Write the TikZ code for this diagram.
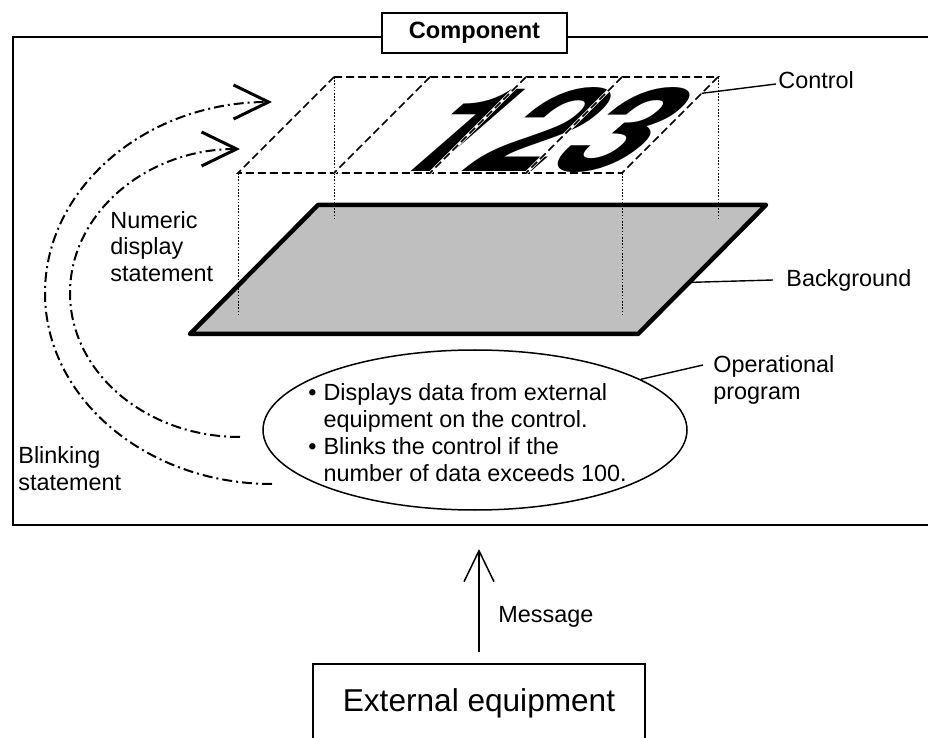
\documentclass[tikz,border=0pt]{standalone}
\usepackage{fontspec}
\setmainfont{Liberation Sans}
\newfontfamily\digitfont{TeX Gyre Heros}
\usepackage{tikz}
\usetikzlibrary{arrows.meta,positioning,shapes,calc}

\begin{document}
\begin{tikzpicture}[x=0.5pt,y=0.5pt,
    lbl/.style={anchor=west,inner sep=0pt,align=left,font=\fontsize{11.7}{13.4}\selectfont},
    leader/.style={line width=0.7pt},
    proj/.style={line width=0.5pt,dash pattern=on 0.8pt off 0.8pt},
    ctlline/.style={line width=0.8pt,dash pattern=on 4pt off 2pt},
    statement/.style={line width=1pt,dash pattern=on 5pt off 2pt on 1pt off 2pt,
        -{Straight Barb[length=17.5pt,width=17pt,line width=1.5pt]}}]
    \useasboundingbox (0,0) rectangle (928,-738);

    % Component frame (open to the right)
    \draw[line width=1pt] (940,-37) -- (13,-37) -- (13,-525) -- (940,-525);
    \node[draw,line width=1pt,fill=white,font=\fontsize{11.8}{14}\selectfont\bfseries,
        minimum width=92.5pt,minimum height=20pt] (comp) at (474.5,-33) {Component};

    % Background plate
    \coordinate (bgTL) at (318,-205);
    \coordinate (bgTR) at (766,-205);
    \coordinate (bgBR) at (638,-334);
    \coordinate (bgBL) at (190,-334);
    \draw[line width=2.25pt,line join=round,fill=black!25]
        (bgTL) -- (bgTR) -- (bgBR) -- (bgBL) -- cycle;

    % Control cells
    \coordinate (ctlTL) at (334,-77);
    \coordinate (ctlTR) at (718,-77);
    \coordinate (ctlBR) at (622,-173);
    \coordinate (ctlBL) at (238,-173);

    % Projection of the control onto the background
    \foreach \c in {ctlTL,ctlTR,ctlBL,ctlBR}
        \draw[proj] (\c) -- ++(0,-143);

    % Digits shown on the control
    \node[inner sep=0pt,xslant=1.15,xscale=1.25,font=\digitfont\fontsize{58}{58}\selectfont\bfseries]
        (digits) at (545,-130) {123};

    \draw[ctlline] (ctlTL) -- (ctlTR) -- (ctlBR) -- (ctlBL) -- cycle;
    \foreach \i in {1,2,3} {
        \draw[white,line width=1.5pt] ($(ctlTL)!\i/4!(ctlTR)$) -- ($(ctlBL)!\i/4!(ctlBR)$);
        \draw[ctlline] ($(ctlTL)!\i/4!(ctlTR)$) -- ($(ctlBL)!\i/4!(ctlBR)$);
    }

    % Operational program
    \node[draw,ellipse,line width=0.75pt,minimum width=212pt,minimum height=80pt,
        inner sep=0pt] (prog) at (475,-430) {};
    \node[lbl] (progTxt) at (308,-435.5) {%
        \begin{tabular}{@{}l@{\hspace{3.5pt}}l@{}}
            \textbullet & Displays data from external\\
                        & equipment on the control.\\
            \textbullet & Blinks the control if the\\
                        & number of data exceeds 100.
        \end{tabular}};

    % Labels and leaders
    \node[lbl] (ctlLbl) at (778,-80) {Control};
    \draw[leader] ($(ctlTR)!0.17!(ctlBR)$) -- ([xshift=-1pt,yshift=-2pt]ctlLbl.west);
    \node[lbl] (bgLbl) at (786,-280) {Background};
    \draw[leader] ($(bgTR)!0.6!(bgBR)$) -- ([xshift=-6.5pt]bgLbl.west);
    \node[lbl] (opLbl) at (713,-380) {Operational\\program};
    \draw[leader] (prog.17) -- ([xshift=-5pt,yshift=7.5pt]opLbl.west);
    \node[lbl] (numLbl) at (110,-246.5) {Numeric\\display\\statement};
    \node[lbl] (blinkLbl) at (18,-468.5) {Blinking\\statement};

    % Statements acting on the control
    \coordinate (numEnd) at (240,-437);
    \coordinate (blinkEnd) at (272,-484);
    \draw[statement] (numEnd) arc[start angle=270,end angle=90,x radius=170,y radius=144];
    \draw[statement] (blinkEnd) arc[start angle=270,end angle=90,x radius=227,y radius=191];

    % External equipment sends a message
    \node[draw,line width=0.75pt,minimum width=166pt,minimum height=39pt,
        font=\fontsize{15.8}{19}\selectfont] (ext) at (479,-703) {External equipment};
    \coordinate (msgTip) at (479,-549);
    \draw[line width=0.75pt,-{Straight Barb[length=15.5pt,width=15pt]}]
        ([yshift=5.5pt]ext.north) -- (msgTip);
    \node[lbl] (msgLbl) at (498,-617) {Message};
\end{tikzpicture}
\end{document}
